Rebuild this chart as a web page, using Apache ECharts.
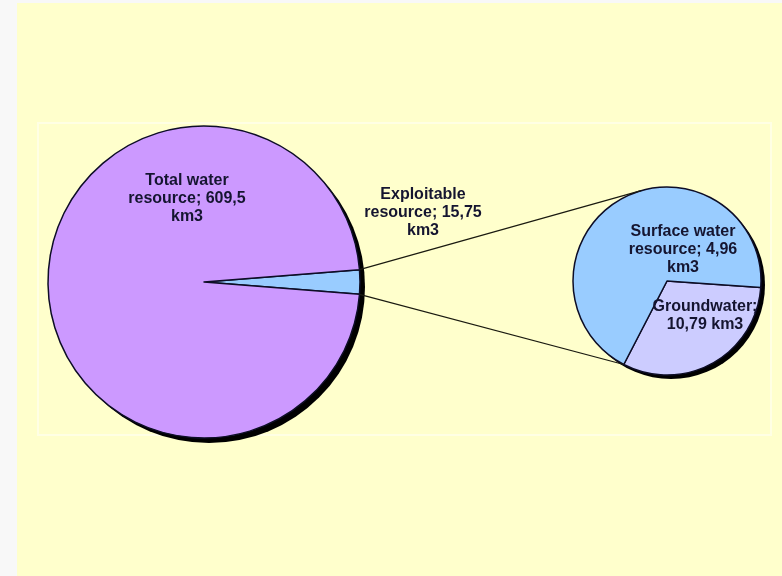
<!DOCTYPE html>
<html>
<head>
<meta charset="utf-8">
<script src="https://cdn.jsdelivr.net/npm/echarts@6/dist/echarts.min.js"></script>
<style>html,body{margin:0;padding:0;background:#FFFFCC;}#c{width:782px;height:576px;}</style>
</head>
<body>
<div id="c"></div>
<script>
// Main pie
const mainNames = ['Exploitable resource', 'Total water resource'];
const mainValues = [15.75, 609.5];
const mainLabels = ['Exploitable\nresource; 15,75\nkm3', 'Total water\nresource; 609,5\nkm3'];
// Secondary pie (slice sizes as drawn in the reference; labels as printed there)
const subNames = ['Groundwater', 'Surface water resource'];
const subValues = [4.96, 10.79];
const subLabels = ['Groundwater;\n10,79 km3', 'Surface water\nresource; 4,96\nkm3'];

const W = 782, H = 576;
const C1 = [204, 282], R1 = 156;
const C2 = [667, 281], R2 = 94;
const mainShare = mainValues[0] / (mainValues[0] + mainValues[1]) * 360;
const mainStart = mainShare / 2;
const subStart = -4;
const subShare = subValues[0] / (subValues[0] + subValues[1]) * 360;
const topAngle = 106;

function pt(c, r, deg) {
  const a = deg * Math.PI / 180;
  return [c[0] + r * Math.cos(a), c[1] - r * Math.sin(a)];
}
const p1 = pt(C1, R1, mainStart), p2 = pt(C2, R2, topAngle);
const p3 = pt(C1, R1, mainStart - mainShare), p4 = pt(C2, R2, subStart - subShare);

const labelFont = { fontFamily: '"Liberation Sans", Arial, sans-serif', fontWeight: 'bold', fontSize: 16, color: '#151530', lineHeight: 18 };
const mainLabelPos = [[423, 213], [187, 199]];
const subLabelPos = [[705, 316], [683, 250]];

const chart = echarts.init(document.getElementById('c'), null, { renderer: 'canvas' });
chart.setOption({
  backgroundColor: '#FFFFCC',
  animation: false,
  graphic: [
    { type: 'rect', z: 0, shape: { x: 0, y: 0, width: 17, height: H }, style: { fill: '#F8F8F8' } },
    { type: 'rect', z: 0, shape: { x: 0, y: 0, width: W, height: 3 }, style: { fill: '#F8F8F8' } },
    { type: 'rect', z: 0, shape: { x: 38, y: 123, width: 733, height: 312 }, style: { fill: 'none', stroke: '#FFFFE4', lineWidth: 2 } },
    { type: 'line', z: 10, shape: { x1: p1[0], y1: p1[1], x2: p2[0], y2: p2[1] }, style: { stroke: '#1a1a10', lineWidth: 1.2 } },
    { type: 'line', z: 10, shape: { x1: p3[0], y1: p3[1], x2: p4[0], y2: p4[1] }, style: { stroke: '#1a1a10', lineWidth: 1.2 } }
  ],
  series: [
    {
      type: 'pie', silent: true, z: 1, center: [C1[0] + 5, C1[1] + 5], radius: R1,
      label: { show: false }, labelLine: { show: false },
      itemStyle: { color: '#000' },
      data: [{ value: 1, name: 'shadow1' }]
    },
    {
      type: 'pie', silent: true, z: 1, center: [C2[0] + 4, C2[1] + 4], radius: R2,
      label: { show: false }, labelLine: { show: false },
      itemStyle: { color: '#000' },
      data: [{ value: 1, name: 'shadow2' }]
    },
    {
      type: 'pie', z: 2, center: C1, radius: R1, startAngle: mainStart, clockwise: true,
      itemStyle: { borderColor: '#0d0d26', borderWidth: 1.5 },
      label: Object.assign({ show: true, position: 'inside', align: 'center', verticalAlign: 'middle',
        formatter: p => mainLabels[p.dataIndex] }, labelFont),
      labelLine: { show: false },
      labelLayout: p => ({ x: mainLabelPos[p.dataIndex][0], y: mainLabelPos[p.dataIndex][1], align: 'center', verticalAlign: 'middle' }),
      data: mainNames.map((n, i) => ({ name: n, value: mainValues[i], itemStyle: { color: ['#99CCFF', '#CC99FF'][i] } }))
    },
    {
      type: 'pie', z: 2, center: C2, radius: R2, startAngle: subStart, clockwise: true,
      itemStyle: { borderColor: '#0d0d26', borderWidth: 1.5 },
      label: Object.assign({ show: true, position: 'inside', align: 'center', verticalAlign: 'middle',
        formatter: p => subLabels[p.dataIndex] }, labelFont),
      labelLine: { show: false },
      labelLayout: p => ({ x: subLabelPos[p.dataIndex][0], y: subLabelPos[p.dataIndex][1], align: 'center', verticalAlign: 'middle' }),
      data: subNames.map((n, i) => ({ name: n, value: subValues[i], itemStyle: { color: ['#CCCCFF', '#99CCFF'][i] } }))
    }
  ]
});
</script>
</body>
</html>
